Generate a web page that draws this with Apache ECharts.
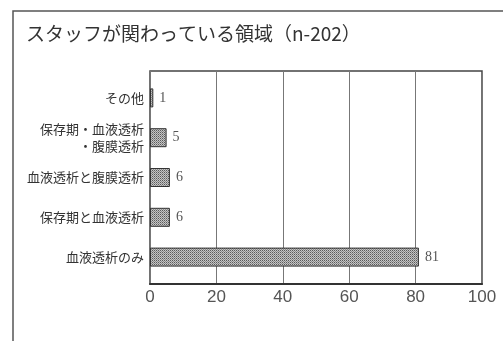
<!DOCTYPE html>
<html>
<head>
<meta charset="utf-8">
<script src="https://cdn.jsdelivr.net/npm/echarts@6/dist/echarts.min.js"></script>
<style>
  html, body { margin: 0; padding: 0; background: #fff; }
  #chart { width: 503px; height: 341px; }
</style>
</head>
<body>
<div id="chart"></div>
<script>
// Areas the staff are involved in (n=202)
const titleText = 'スタッフが関わっている領域（n-202）';
const categories = [
  'その他',
  '保存期・血液透析\n・腹膜透析',
  '血液透析と腹膜透析',
  '保存期と血液透析',
  '血液透析のみ'
];
const counts = [1, 5, 6, 6, 81];
const xTicks = [0, 20, 40, 60, 80, 100];

// fine dotted texture for the bars
function dotPattern() {
  const c = document.createElement('canvas');
  c.width = 2; c.height = 2;
  const g = c.getContext('2d');
  g.fillStyle = '#c4c4c4'; g.fillRect(0, 0, 2, 2);
  g.fillStyle = '#5a5a5a'; g.fillRect(0, 0, 1, 1);
  g.fillStyle = '#8a8a8a'; g.fillRect(1, 1, 1, 1);
  return c;
}

const chart = echarts.init(document.getElementById('chart'), null, { renderer: 'canvas' });

const plotLeft = 150, plotRight = 21; // 503 - 482
chart.setOption({
  animation: false,
  backgroundColor: '#ffffff',
  title: {
    text: titleText,
    left: 21, top: 19,
    textStyle: { fontFamily: 'Noto Sans CJK JP', fontSize: 19, fontWeight: 'normal', color: '#333' }
  },
  graphic: [{
    type: 'rect',
    shape: { x: 13, y: 11, width: 520, height: 360 },
    style: { fill: 'none', stroke: '#555', lineWidth: 1.5 },
    silent: true
  }],
  grid: [
    // frame with vertical gridlines
    { left: plotLeft, right: plotRight, top: 71, height: 213, show: true, borderColor: '#444', borderWidth: 1.5, containLabel: false },
    // bar band area
    { left: plotLeft, right: plotRight, top: 78, height: 199, containLabel: false }
  ],
  xAxis: [
    {
      gridIndex: 0, type: 'value', min: xTicks[0], max: xTicks[xTicks.length - 1], interval: 20,
      axisLine: { show: true, lineStyle: { color: '#333', width: 2 } },
      axisTick: { show: false },
      splitLine: { show: true, lineStyle: { color: '#777', width: 1 } },
      axisLabel: { margin: 5, fontFamily: 'Liberation Sans', fontSize: 17, color: '#555' }
    },
    {
      gridIndex: 1, type: 'value', min: xTicks[0], max: xTicks[xTicks.length - 1],
      show: false
    }
  ],
  yAxis: [
    {
      gridIndex: 0, type: 'value', show: false, min: 0, max: 1
    },
    {
      gridIndex: 1, type: 'category', data: categories, inverse: true,
      axisLine: { show: false }, axisTick: { show: false },
      splitLine: { show: false },
      axisLabel: {
        margin: 6, fontFamily: 'Noto Sans CJK JP', fontSize: 13, color: '#333',
        lineHeight: 17, align: 'right'
      }
    }
  ],
  series: [{
    type: 'bar',
    xAxisIndex: 1, yAxisIndex: 1,
    data: counts,
    barWidth: 19,
    itemStyle: {
      color: { image: dotPattern(), repeat: 'repeat' },
      borderColor: '#333', borderWidth: 1
    },
    label: {
      show: true, position: 'right', distance: 6,
      fontFamily: 'Liberation Serif', fontSize: 14, color: '#555'
    }
  }]
});
</script>
</body>
</html>
